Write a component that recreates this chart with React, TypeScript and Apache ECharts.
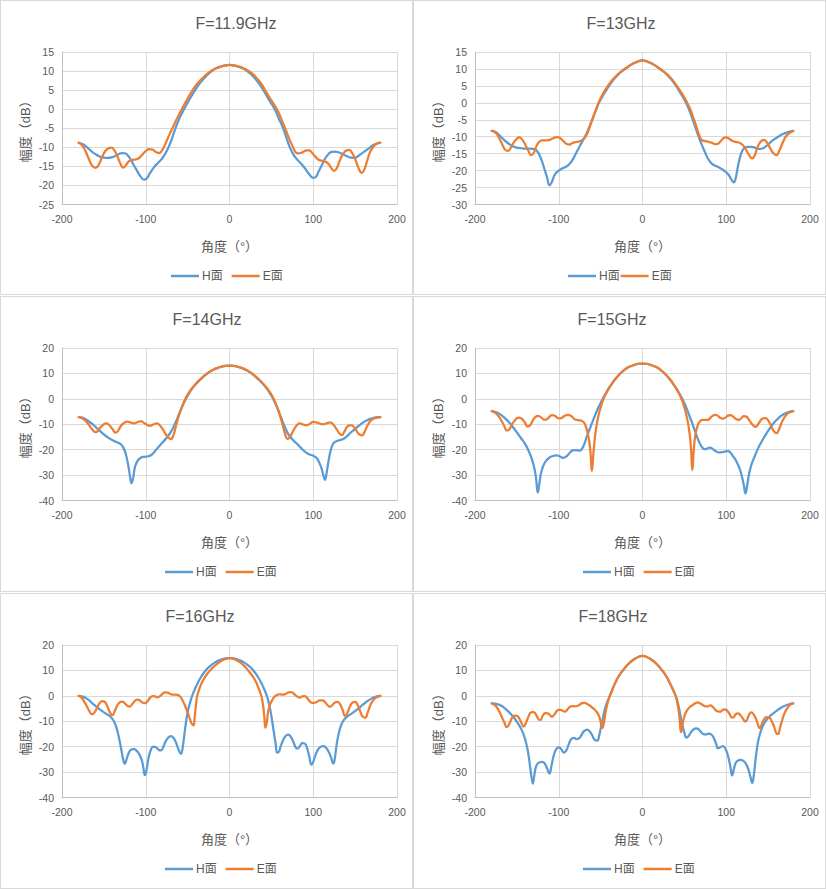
import React, { useEffect, useRef } from "react";
import * as echarts from "echarts";

type Pt = [number, number];

// ---------- data ----------
const TITLES = ["F=11.9GHz", "F=13GHz", "F=14GHz", "F=15GHz", "F=16GHz", "F=18GHz"];
const SERIES_NAMES = ["H面", "E面"];
const X_AXIS_NAME = "角度（°）";
const Y_AXIS_NAME = "幅度（dB）";
const X_MIN = -200;
const X_MAX = 200;
const X_STEP = 100;
const Y_MIN = [-25, -30, -40, -40, -40, -40];
const Y_MAX = [15, 15, 20, 20, 20, 20];
const Y_STEP = [5, 5, 10, 10, 10, 10];

const H_119: Pt[] = [
  [-180, -8.8], [-175, -9.2], [-170, -10], [-165, -11], [-160, -11.8], [-155, -12.4], [-150, -12.7], [-145, -12.8],
  [-140, -12.6], [-135, -12.1], [-130, -11.6], [-126, -11.5], [-122, -12], [-118, -13.2], [-114, -14.8], [-110, -16.3],
  [-106, -17.7], [-102, -18.5], [-99, -18.2], [-95, -16.8], [-90, -15.2], [-85, -14], [-80, -12.8], [-75, -11],
  [-70, -8.5], [-65, -5.3], [-60, -2.5], [-54, 0.1], [-48, 2.5], [-41, 5], [-35, 6.9], [-30, 8.2], [-25, 9.3],
  [-20, 10.2], [-15, 10.8], [-10, 11.2], [-5, 11.5], [0, 11.6],
  [5, 11.5], [10, 11.2], [15, 10.8], [21, 10], [25, 9.3], [30, 8.2], [35, 6.8], [40.5, 5], [47, 2.5], [54, 0],
  [59, -2.5], [64, -5], [68, -7.5], [72, -10], [76, -11.8], [80, -13], [85, -14.2], [90, -15.5], [95, -17],
  [100, -18], [103, -17.8], [106, -16.5], [110, -14.8], [114, -13], [118, -11.8], [122, -11.2], [126, -11.1],
  [130, -11.3], [135, -11.8], [140, -12.3], [145, -12.7], [149, -12.8], [153, -12.4], [158, -11.6], [163, -10.8],
  [168, -10], [173, -9.3], [180, -8.8],
];
const E_119: Pt[] = [
  [-180, -8.8], [-176, -9.5], [-172, -11], [-168, -13], [-164, -14.8], [-160, -15.4], [-156, -14.5], [-152, -12.5],
  [-148, -10.9], [-144, -10.2], [-141, -10.1], [-138, -10.6], [-134, -12.3], [-130, -14.4], [-127, -15.3], [-124, -14.8],
  [-120, -13.6], [-116, -13.3], [-112, -13.2], [-108, -12.8], [-104, -11.9], [-100, -11], [-96, -10.5], [-92, -10.6],
  [-88, -11.2], [-84, -11.5], [-80, -10.6], [-76, -8.8], [-72, -6.8], [-68, -4.9], [-63, -2.6], [-57, 0], [-50, 2.8],
  [-44, 5], [-38, 6.8], [-32, 8.2], [-27, 9.2], [-23, 9.9], [-18, 10.5], [-12, 11.1], [-6, 11.4], [0, 11.6],
  [6, 11.4], [12, 11.1], [18, 10.6], [23, 10], [28, 9.2], [33, 8], [38, 6.7], [42.5, 5], [48, 3], [53, 1.3], [58, -0.6],
  [62, -2.6], [67, -5.3], [71, -7.6], [76, -10], [79, -11.3], [82, -11.6], [85, -11.5], [88, -11.2], [92, -10.8],
  [95, -10.8], [98, -11.3], [102, -12.3], [106, -13.2], [110, -13.5], [114, -13.7], [118, -14.3], [122, -15.6],
  [125, -16.2], [128, -15.5], [132, -13.3], [136, -11.6], [140, -10.8], [143, -10.7], [146, -11.3], [150, -13],
  [154, -15.4], [158, -16.7], [161, -15.8], [164, -13.8], [168, -11.2], [172, -9.8], [176, -9], [180, -8.8],
];

const H_13: Pt[] = [
  [-180, -8.3], [-175, -8.7], [-170, -9.8], [-165, -11], [-160, -12], [-155, -12.8], [-150, -13.2], [-145, -13.4],
  [-140, -13.5], [-135, -13.5], [-130, -13.6], [-126, -14.2], [-122, -16], [-118, -18.8], [-114, -22], [-111, -24.3],
  [-108, -23.2], [-105, -21.3], [-101, -20.2], [-96, -19.4], [-91, -18.8], [-87, -18], [-83, -16.6], [-79, -14.7],
  [-75, -12.8], [-71, -11], [-67, -9.2], [-63, -6.8], [-59, -4.3], [-55, -1.8], [-52, 0], [-46, 2.6], [-40, 5],
  [-34, 7], [-28, 8.6], [-23, 9.6], [-18, 10.5], [-12, 11.5], [-6, 12.2], [0, 12.5],
  [6, 12.2], [12, 11.5], [18, 10.5], [23, 9.6], [28, 8.6], [34, 7], [40, 5], [46, 2.6], [52, 0], [56, -2.3],
  [60, -5], [64, -7.8], [67, -10], [71, -12.5], [75, -14.8], [79, -16.8], [83, -18], [87, -18.6], [91, -19],
  [95, -19.6], [99, -20.3], [103, -21.3], [106, -22.6], [109, -23.5], [111, -22.5], [113, -20], [116, -16.5],
  [119, -14.2], [122, -13.3], [126, -13], [130, -13], [135, -13.3], [140, -13.6], [144, -13.4], [148, -12.7],
  [152, -11.8], [157, -10.8], [162, -10], [167, -9.3], [173, -8.7], [180, -8.3],
];
const E_13: Pt[] = [
  [-180, -8.3], [-176, -8.7], [-172, -10], [-168, -12], [-164, -13.8], [-161, -14.2], [-158, -13.5], [-154, -11.8],
  [-150, -10.6], [-147, -10.2], [-144, -10.7], [-140, -12.3], [-136, -14.3], [-133, -15.4], [-130, -14.8], [-127, -13],
  [-124, -11.7], [-120, -11.1], [-116, -11.1], [-112, -11], [-108, -10.6], [-104, -10.2], [-101, -10.1], [-98, -10.5],
  [-94, -11.4], [-90, -12.2], [-87, -12.3], [-84, -11.9], [-80, -11.6], [-76, -11.4], [-72, -11], [-68, -10],
  [-64, -7.8], [-60, -5], [-56, -2.3], [-53, -0.3], [-47, 2.8], [-41, 5.1], [-35, 7], [-29, 8.5], [-24, 9.5], [-20, 10.2],
  [-14, 11.2], [-7, 12], [0, 12.5],
  [7, 12], [14, 11.2], [20, 10.2], [24, 9.5], [29, 8.5], [35, 7], [41, 5], [47, 2.8], [53, 0.2], [57, -1.9],
  [61, -4.6], [65, -7.5], [68, -9.8], [71, -11], [75, -11.3], [79, -11.5], [83, -11.8], [87, -12.2], [90, -12.1],
  [94, -11.1], [97, -10.4], [100, -10.2], [103, -10.5], [107, -11.2], [111, -11.5], [115, -11.7], [119, -12.3],
  [123, -13.6], [127, -15.3], [131, -16.4], [134, -15.5], [137, -13.3], [141, -11.5], [145, -10.9], [148, -11.5],
  [152, -13.2], [156, -14.8], [160, -15.4], [163, -14.3], [167, -12], [171, -10], [175, -9], [180, -8.3],
];

const H_14: Pt[] = [
  [-180, -7.2], [-175, -7.5], [-170, -8.4], [-165, -9.6], [-160, -11], [-155, -12.5], [-150, -14], [-145, -15.2],
  [-140, -16.2], [-135, -17], [-130, -17.8], [-127, -19], [-124, -21.5], [-121, -26], [-119, -30], [-117, -33.2],
  [-115, -31], [-113, -27], [-110, -24.5], [-106, -23.2], [-102, -22.8], [-97, -22.6], [-93, -22], [-89, -20.6],
  [-85, -19], [-80, -17.2], [-75, -15.3], [-70, -13], [-66, -10.5], [-62, -7.4], [-58, -4.2], [-54, -1.3], [-50, 1.2],
  [-45, 3.8], [-40, 5.8], [-35, 7.5], [-30, 9], [-25, 10.3], [-20, 11.3], [-15, 12.1], [-10, 12.6], [-5, 13], [0, 13.1],
  [5, 13], [10, 12.6], [15, 12.1], [20, 11.3], [25, 10.3], [30, 9], [35, 7.5], [40, 5.8], [45, 3.8], [50, 1.2],
  [54, -1.3], [58, -4.3], [62, -7.7], [66, -11], [70, -13.8], [75, -15.9], [80, -17.5], [85, -19.2], [90, -20.8],
  [95, -21.8], [100, -22.4], [104, -23.3], [107, -25], [110, -27.5], [112, -30], [114, -31.9], [116, -29],
  [118, -25], [121, -20], [124, -17.5], [127, -16.8], [131, -16.3], [135, -15.9], [140, -14.8], [145, -13.2],
  [150, -11.8], [155, -10.4], [160, -9.2], [165, -8.3], [170, -7.7], [175, -7.3], [180, -7.2],
];
const E_14: Pt[] = [
  [-180, -7.2], [-176, -7.6], [-172, -8.6], [-168, -10.2], [-164, -12], [-160, -13.1], [-157, -12.6], [-154, -11.2],
  [-150, -10], [-147, -9.7], [-144, -10.2], [-140, -11.8], [-136, -13.3], [-133, -12.6], [-130, -10.8], [-126, -9.5],
  [-122, -9], [-118, -9.3], [-114, -9.7], [-110, -9.2], [-106, -8.8], [-102, -9.5], [-98, -10.3], [-95, -10.6],
  [-91, -10.1], [-87, -9.7], [-84, -10.2], [-80, -11.8], [-76, -14], [-73, -15.3], [-70, -15.9], [-67, -14.3],
  [-64, -10.8], [-61, -7.2], [-58, -4.2], [-55, -1.7], [-52, 0.5], [-47, 3.2], [-42, 5.3], [-36, 7.4], [-31, 8.9], [-27, 9.9],
  [-22, 11], [-16, 12], [-10, 12.6], [-5, 13], [0, 13.1],
  [5, 13], [10, 12.6], [16, 12], [22, 11], [27, 9.9], [31, 8.9], [36, 7.4], [42, 5.3], [47, 3.2], [52, 0.5], [55, -1.7],
  [58, -4.3], [61, -7.4], [64, -11], [67, -14.5], [69, -15.8], [72, -15], [75, -13.3], [78, -11.5], [81, -10.2],
  [84, -9.7], [88, -10.1], [92, -10.4], [96, -9.8], [100, -9.1], [104, -9.3], [108, -9.8], [112, -10], [116, -9.6],
  [120, -9.3], [124, -10.2], [128, -12], [131, -13.5], [134, -14.3], [137, -13], [140, -11.2], [143, -10.4],
  [146, -10.4], [149, -11.3], [152, -12.8], [155, -14], [158, -14.4], [161, -13.2], [164, -11], [168, -8.8],
  [172, -7.8], [176, -7.4], [180, -7.2],
];

const H_15: Pt[] = [
  [-180, -4.8], [-175, -5.2], [-170, -6.1], [-165, -7.4], [-160, -9], [-155, -11], [-150, -13.2], [-145, -15.5],
  [-140, -17.8], [-136, -20.5], [-132, -23.8], [-129, -27.5], [-127, -31.5], [-125, -36.8], [-123, -33], [-121, -29],
  [-118, -26], [-115, -24.3], [-111, -23.1], [-107, -22.5], [-103, -22.2], [-99, -22.6], [-95, -23.2], [-91, -22.7],
  [-87, -21.3], [-83, -20.3], [-79, -20.2], [-75, -20.4], [-72, -19.5], [-69, -17.3], [-66, -14.5], [-62, -11],
  [-58, -7.6], [-54, -4.4], [-50, -1.6], [-47, 0.3], [-43, 2.7], [-39, 4.8], [-33, 7.5], [-27, 9.8], [-20, 11.8],
  [-15, 12.7], [-10, 13.3], [-5, 13.8], [0, 13.9],
  [5, 13.8], [10, 13.3], [15, 12.7], [20, 11.8], [27, 9.8], [33, 7.5], [39, 4.8], [43, 2.7], [47, 0.3], [51, -2.4],
  [55, -5.8], [59, -9.3], [63, -13], [67, -16.5], [71, -19], [74, -19.8], [77, -19.6], [80, -19.2], [83, -19.5],
  [87, -20.5], [91, -21.1], [95, -21], [99, -20.7], [102, -20.6], [105, -21.2], [108, -22.5], [112, -24.5],
  [116, -27.5], [119, -31], [121, -34], [123, -37.2], [125, -34], [127, -30], [130, -26], [134, -22.6], [138, -19.5],
  [142, -17], [146, -14.7], [150, -12.6], [155, -10.2], [160, -8.3], [165, -6.8], [170, -5.8], [175, -5.1], [180, -4.8],
];
const E_15: Pt[] = [
  [-180, -4.8], [-176, -5.4], [-172, -6.8], [-168, -8.8], [-165, -10.8], [-162, -12.5], [-159, -12], [-156, -10.2],
  [-152, -8.3], [-148, -7.4], [-145, -7.6], [-141, -9], [-137, -10.9], [-134, -10.3], [-131, -8.5], [-128, -7.2],
  [-125, -6.7], [-121, -7.3], [-117, -8.2], [-114, -8], [-111, -7], [-108, -6.4], [-104, -6.8], [-100, -7.7],
  [-97, -7.6], [-93, -6.7], [-89, -6.3], [-85, -6.8], [-81, -8], [-77, -8.4], [-73, -8.6], [-70, -9.3], [-67, -11.5],
  [-64, -16], [-62, -21.5], [-60.5, -28.3], [-58.5, -21], [-56, -13], [-53, -7.3], [-50, -3.4], [-46.5, 0],
  [-42, 3], [-38, 5.2], [-33, 7.6], [-27, 9.8], [-20, 11.8], [-15, 12.7], [-10, 13.3], [-5, 13.8], [0, 13.9],
  [5, 13.8], [10, 13.3], [15, 12.7], [20, 11.8], [27, 9.8], [33, 7.6], [38, 5.2], [42, 3], [46.5, 0], [50, -3.4],
  [53, -7.3], [56, -13], [58, -20], [59.5, -28], [61, -21], [63, -14.5], [66, -10.3], [69, -8.7], [72, -8.3],
  [75, -8.3], [78, -8.3], [81, -7.5], [84, -6.6], [87, -6.3], [90, -6.7], [93, -7.5], [96, -7.8], [99, -7.4],
  [102, -6.6], [105, -6.4], [108, -6.9], [111, -7.8], [115, -8.3], [118, -7.6], [121, -6.8], [124, -7], [127, -8.2],
  [131, -10], [135, -11], [138, -10], [141, -8.5], [144, -7.7], [147, -7.6], [150, -8.5], [153, -10.3], [157, -12.8],
  [160, -13.5], [163, -12], [166, -9.5], [170, -7], [174, -5.6], [180, -4.8],
];

const H_16: Pt[] = [
  [-180, 0], [-176, -0.2], [-172, -0.8], [-168, -1.7], [-164, -2.9], [-160, -4], [-155, -5.3], [-150, -6.5],
  [-146, -7.3], [-142, -8.2], [-138, -10], [-135, -12.5], [-132, -16.5], [-129, -21.5], [-127, -25], [-125, -26.8],
  [-123, -25], [-120, -22.3], [-117, -21.1], [-114, -21], [-111, -21.6], [-108, -22.8], [-105, -25], [-103, -28],
  [-101, -31.2], [-99, -29], [-97, -25], [-94, -21.3], [-91, -20], [-88, -20.2], [-85, -21.1], [-82, -21.5],
  [-79, -20], [-76, -17.8], [-73, -16.4], [-70, -15.9], [-67, -16.5], [-64, -18.3], [-61, -21], [-58, -22.8],
  [-56, -20.5], [-54, -15.5], [-52, -10.5], [-50, -6.5], [-47, -2.6], [-45, -0.4], [-41, 2.9], [-38, 5], [-34, 7.4],
  [-29, 9.8], [-23, 11.8], [-17, 13.2], [-11, 14.1], [-5, 14.7], [0, 14.8],
  [5, 14.7], [11, 14.1], [17, 13.2], [23, 11.8], [29, 9.8], [34, 7.4], [38, 5], [42, 2.2], [45, -0.4], [47, -2.8],
  [49, -6], [51, -10], [53, -14.5], [55, -18.5], [57, -22.3], [59, -22], [61, -20], [64, -17.5], [67, -15.8],
  [70, -15.3], [73, -16], [76, -18], [79, -20.3], [81, -20.8], [84, -19.8], [87, -18.6], [90, -18.8], [93, -21],
  [95, -23.5], [98, -27.1], [100, -26], [103, -23], [106, -21], [109, -20], [112, -19.8], [115, -20.3], [118, -21.8],
  [121, -24], [124, -26.7], [126, -24], [128, -19], [131, -14], [134, -11], [137, -9.3], [140, -8.3], [143, -7.6],
  [147, -6.7], [151, -5.7], [155, -4.7], [160, -3.3], [165, -2], [170, -1], [175, -0.3], [180, 0],
];
const E_16: Pt[] = [
  [-180, 0], [-177, -0.6], [-174, -2], [-171, -3.7], [-168, -5.6], [-164, -7.2], [-161, -6.5], [-158, -4.5],
  [-155, -2.8], [-152, -2.1], [-149, -2.4], [-146, -4], [-143, -6.3], [-140, -7.6], [-137, -6], [-134, -3.8],
  [-131, -2.6], [-128, -2.3], [-125, -3], [-122, -3.9], [-119, -4.2], [-116, -3.2], [-113, -2], [-110, -1.5],
  [-107, -1.8], [-104, -2.6], [-101, -2.9], [-98, -2.2], [-95, -0.9], [-92, -0.1], [-89, -0.2], [-86, -0.6],
  [-83, -0.1], [-80, 0.8], [-77, 1.4], [-74, 1.3], [-71, 0.8], [-68, 0.5], [-65, 0.5], [-62, 0.4], [-59, -0.3],
  [-56, -1.8], [-53, -4], [-50, -6.5], [-47, -9.3], [-45, -11], [-43, -11.6], [-41.5, -8], [-40, -3.5], [-38.5, 0],
  [-36, 2.7], [-33, 5.2], [-28, 8], [-23, 10.1], [-17, 12], [-11, 13.5], [-5, 14.5], [0, 14.8],
  [5, 14.5], [11, 13.5], [17, 12], [22, 10.1], [27, 8], [32, 5.2], [35, 2.7], [38, 0], [40, -3.5], [41.5, -8],
  [43, -12.5], [44.5, -10.5], [46, -6.5], [48, -3.8], [51, -1.7], [54, -0.3], [57, 0.4], [60, 0.6], [63, 0.5],
  [66, 0.6], [69, 1.1], [72, 1.5], [75, 1.3], [78, 0.5], [81, -0.3], [84, -0.7], [87, -0.2], [90, -0.1], [93, -1],
  [96, -2.2], [99, -2.8], [102, -2.7], [105, -2.2], [108, -1.8], [111, -1.8], [114, -2.5], [117, -3.6], [120, -4.3],
  [123, -3.6], [126, -2.6], [129, -2.4], [132, -3.3], [135, -5.5], [138, -7.9], [141, -6.6], [144, -4], [147, -2.6],
  [150, -2.4], [153, -3.6], [156, -6], [159, -8.2], [162, -8.6], [165, -6.5], [168, -3.8], [171, -2], [175, -0.7],
  [180, 0],
];

const H_18: Pt[] = [
  [-180, -3], [-176, -3.1], [-172, -3.4], [-168, -4], [-164, -5], [-160, -6.2], [-156, -7.6], [-152, -9.2],
  [-148, -11.2], [-144, -13.6], [-141, -16.2], [-138, -19.8], [-136, -23.5], [-134, -28.5], [-132, -33], [-131, -34.5],
  [-129.5, -32], [-128, -29], [-126, -27], [-123, -26.2], [-120, -26], [-117, -26.5], [-114, -28.5], [-111, -30.5],
  [-109, -28], [-106, -23.5], [-103, -21], [-100, -20.3], [-97, -21], [-94, -22.3], [-91, -21.5], [-88, -19],
  [-85, -17], [-82, -16.5], [-79, -17], [-76, -16.8], [-73, -15.5], [-70, -14], [-66, -13.3], [-63, -14],
  [-60, -15.6], [-57, -17.3], [-54, -17.6], [-52, -16], [-50, -13], [-48, -10], [-46, -6.8], [-43, -3.2], [-39, 0],
  [-36, 2.4], [-33, 4.8], [-28, 7.9], [-22, 10.6], [-16, 12.8], [-10, 14.4], [-5, 15.3], [0, 15.7],
  [5, 15.3], [10, 14.4], [16, 12.8], [22, 10.6], [28, 7.9], [33, 4.8], [37, 2], [40, -0.3], [42, -2.5], [44, -5.5],
  [46, -9], [48, -12], [50, -14.5], [52.5, -16.4], [55, -15.8], [58, -14.3], [61, -13.2], [64, -12.8], [67, -13.2],
  [70, -14.3], [73, -15.1], [76, -15.2], [79, -14.9], [82, -15.2], [85, -16.5], [88, -19], [90, -20.6], [93, -20.2],
  [96, -19.8], [99, -20.8], [102, -23.5], [105, -28], [107, -31.3], [109, -29], [111, -26.6], [114, -25.4],
  [117, -25.2], [120, -25.5], [123, -26.5], [126, -28.5], [129, -32], [131, -34.3], [133, -31], [135, -25],
  [137, -20], [139, -16.5], [142, -13.2], [145, -11], [148, -9.5], [151, -8.4], [155, -7.2], [160, -5.9],
  [165, -4.8], [170, -3.9], [175, -3.3], [180, -3],
];
const E_18: Pt[] = [
  [-180, -3], [-177, -3.5], [-174, -4.5], [-171, -6.2], [-168, -8.3], [-165, -10.5], [-162, -12.3], [-159, -11],
  [-156, -8.8], [-153, -7.8], [-150, -7.9], [-147, -9], [-144, -11], [-142, -12.1], [-139, -10.5], [-136, -8],
  [-133, -6.5], [-130, -6.4], [-127, -7.5], [-124, -9.3], [-122, -9.5], [-119, -7.8], [-116, -6.8], [-113, -6.9],
  [-110, -7.8], [-108, -8.2], [-105, -7.3], [-102, -5.8], [-99, -5.4], [-96, -5.8], [-93, -6.2], [-90, -5.5],
  [-87, -4.4], [-84, -4], [-81, -4.1], [-78, -4], [-75, -3.5], [-72, -2.9], [-69, -2.8], [-66, -3.2], [-63, -3.8],
  [-60, -4.6], [-57, -5.5], [-54, -6.6], [-51, -8.8], [-48, -12.7], [-46, -10.5], [-44, -6.3], [-42, -3.2], [-39, 0],
  [-36, 2.4], [-33, 4.8], [-28, 7.9], [-22, 10.6], [-16, 12.8], [-10, 14.4], [-5, 15.3], [0, 15.7],
  [5, 15.3], [10, 14.4], [16, 12.8], [22, 10.6], [28, 7.9], [33, 4.8], [37, 2], [40, -0.5], [42, -3.5], [44, -8],
  [46, -14.3], [48, -11], [50, -8], [53, -5.8], [56, -4.6], [60, -3.6], [63, -2.9], [66, -2.6], [69, -3], [72, -3.6],
  [75, -4.1], [78, -4.1], [81, -3.8], [84, -4.4], [87, -5.5], [90, -6.1], [93, -6.2], [96, -5.5], [98, -5.3],
  [101, -5.8], [104, -7.2], [107, -8.6], [109, -8.4], [111, -7.3], [114, -6.9], [117, -7.6], [120, -9], [123, -10.1],
  [125, -9.3], [127, -7.6], [130, -6.5], [133, -7.5], [136, -9.5], [138, -11.5], [140, -12.7], [142, -11.5],
  [145, -9.3], [148, -8.4], [151, -8.5], [154, -9.8], [157, -12], [160, -14.8], [162, -15], [164, -12.8], [167, -9.3],
  [170, -6.5], [174, -4.3], [177, -3.4], [180, -3],
];

const H_DATA = [H_119, H_13, H_14, H_15, H_16, H_18];
const E_DATA = [E_119, E_13, E_14, E_15, E_16, E_18];

// ---------- layout ----------
const COLORS = ["#5b9bd5", "#ed7d31"];
const TEXT = "#595959";
const FONT = '"Liberation Sans", "Noto Sans CJK SC", sans-serif';

const LAYOUT = [
  { x: 0, y: 0, w: 413, h: 295, titleX: 236, legendX: 171, legendGap: 9 },
  { x: 413, y: 0, w: 413, h: 295, titleX: 208, legendX: 155, legendGap: 1 },
  { x: 0, y: 296, w: 413, h: 296, titleX: 207, legendX: 165, legendGap: 9 },
  { x: 413, y: 296, w: 413, h: 296, titleX: 199, legendX: 170, legendGap: 9 },
  { x: 0, y: 593, w: 413, h: 296, titleX: 200, legendX: 165, legendGap: 9 },
  { x: 413, y: 593, w: 413, h: 296, titleX: 200, legendX: 170, legendGap: 9 },
];

function buildOption(i: number) {
  const L = LAYOUT[i];
  const mk = (name: string, data: Pt[], color: string) => ({
    name,
    type: "line",
    data,
    symbol: "none",
    showSymbol: false,
    smooth: 0.5,
    color,
    lineStyle: { color, width: 2.25, cap: "round", join: "round" },
    itemStyle: { color },
  });
  return {
    animation: false,
    backgroundColor: "transparent",
    textStyle: { fontFamily: FONT },
    graphic: [
      {
        type: "text",
        x: L.titleX,
        y: 23,
        style: {
          text: TITLES[i],
          fontSize: 16,
          fontFamily: FONT,
          fill: TEXT,
          align: "center",
          verticalAlign: "middle",
          textAlign: "center",
          textVerticalAlign: "middle",
        },
      },
    ],
    legend: {
      data: SERIES_NAMES,
      left: L.legendX,
      top: 270,
      icon: "rect",
      itemWidth: 28,
      itemHeight: 2.5,
      itemGap: L.legendGap,
      padding: 0,
      textStyle: { color: TEXT, fontSize: 12, fontFamily: FONT, padding: [0, 0, 0, -2] },
    },
    grid: { left: 62, top: 52, width: 335, height: 152.5, containLabel: false, outerBoundsMode: "none" },
    xAxis: {
      type: "value",
      min: X_MIN,
      max: X_MAX,
      interval: X_STEP,
      name: X_AXIS_NAME,
      nameLocation: "middle",
      nameGap: 35,
      nameMoveOverlap: false,
      nameTextStyle: { color: TEXT, fontSize: 13, fontFamily: FONT },
      axisLine: { show: true, onZero: false, lineStyle: { color: "#bfbfbf", width: 1 } },
      axisTick: { show: false },
      axisLabel: { color: TEXT, fontSize: 10.5, margin: 9, fontFamily: FONT },
      splitLine: { show: true, lineStyle: { color: "#d9d9d9", width: 1 } },
    },
    yAxis: {
      type: "value",
      min: Y_MIN[i],
      max: Y_MAX[i],
      interval: Y_STEP[i],
      name: Y_AXIS_NAME,
      nameLocation: "middle",
      nameRotate: 90,
      nameGap: 30,
      nameMoveOverlap: false,
      nameTextStyle: { color: TEXT, fontSize: 13, fontFamily: FONT },
      axisLine: { show: true, onZero: false, lineStyle: { color: "#bfbfbf", width: 1 } },
      axisTick: { show: false },
      axisLabel: { color: TEXT, fontSize: 10.5, margin: 8, fontFamily: FONT },
      splitLine: { show: true, lineStyle: { color: "#d9d9d9", width: 1 } },
    },
    series: [mk(SERIES_NAMES[0], H_DATA[i], COLORS[0]), mk(SERIES_NAMES[1], E_DATA[i], COLORS[1])],
  };
}

function Panel({ i }: { i: number }) {
  const ref = useRef<HTMLDivElement>(null);
  const L = LAYOUT[i];
  useEffect(() => {
    if (!ref.current) return;
    const chart = echarts.init(ref.current, null, { renderer: "svg" });
    chart.setOption(buildOption(i) as any);
    return () => chart.dispose();
  }, [i]);
  return (
    <>
      <div
        style={{
          position: "absolute",
          left: L.x,
          top: L.y,
          width: L.w,
          height: L.h,
          boxSizing: "border-box",
          border: "1px solid #d9d9d9",
          background: "#fff",
        }}
      />
      <div ref={ref} style={{ position: "absolute", left: L.x, top: L.y, width: L.w, height: L.h }} />
    </>
  );
}

export default function App() {
  return (
    <div style={{ position: "absolute", left: 0, top: 0, width: 826, height: 889, background: "#fff", overflow: "hidden" }}>
      {LAYOUT.map((_, i) => (
        <Panel key={i} i={i} />
      ))}
    </div>
  );
}
